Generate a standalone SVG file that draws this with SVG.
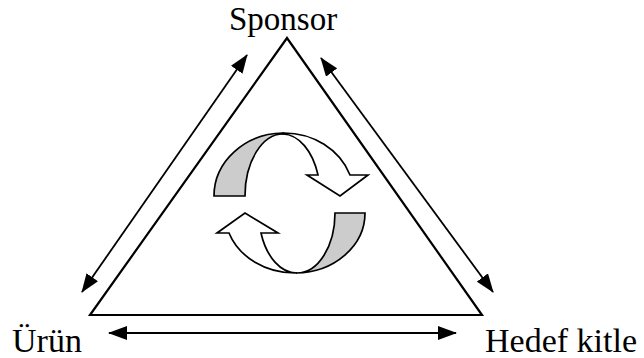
<svg xmlns="http://www.w3.org/2000/svg" width="644" height="358" viewBox="0 0 644 358">
<style>
.lbl{font-family:"Liberation Serif","Times New Roman",serif;font-size:34px;fill:#000}
.tri{fill:none;stroke:#000;stroke-width:2.2;stroke-linejoin:miter}
.conn{fill:none;stroke:#000;stroke-width:1.8}
.cyc{stroke:#000;stroke-width:1.7;stroke-linejoin:miter}
.gray{fill:#cccccc}
.white{fill:#ffffff}
</style>
<defs>
<marker id="ah" viewBox="0 0 19 14" refX="18" refY="7" markerWidth="19" markerHeight="14" markerUnits="userSpaceOnUse" orient="auto-start-reverse">
<path d="M0,0 L19,7 L0,14 Z" fill="#000"/>
</marker>
</defs>
<rect width="644" height="358" fill="#fff"/>
<g id="triangle">
<path class="tri" d="M287,38 L90,315 L482,315 Z"/>
</g>
<g id="cycle">
<path class="cyc gray" d="M214,196 A70,63 0 0 1 283,133 L283,134 A38,62 0 0 0 245,196 Z"/>
<path class="cyc white" d="M283,133 A70,63 0 0 1 350,175 L368,175 L340,196 L307,175 L318,175 A38,62 0 0 0 283,134 Z"/>
<path class="cyc gray" d="M296,273 A70,60 0 0 0 365,213 L335,213 A38,60 0 0 1 297,273 Z"/>
<path class="cyc white" d="M296,273 A70,60 0 0 1 229,233 L217,233 L245,213 L278,233 L261,233 A38,60 0 0 0 297,273 Z"/>
</g>
<g id="connectors">
<line class="conn" x1="82" y1="292" x2="247" y2="55" marker-start="url(#ah)" marker-end="url(#ah)"/>
<line class="conn" x1="321" y1="58" x2="493" y2="292" marker-start="url(#ah)" marker-end="url(#ah)"/>
<line class="conn" x1="109" y1="333" x2="456" y2="333" marker-start="url(#ah)" marker-end="url(#ah)"/>
</g>
<g id="node-sponsor"><text class="lbl" x="229" y="30" style="font-size:33px">Sponsor</text></g>
<g id="node-urun"><text class="lbl" x="12" y="352">Ürün</text></g>
<g id="node-hedef"><text class="lbl" x="485" y="352">Hedef kitle</text></g>
</svg>
